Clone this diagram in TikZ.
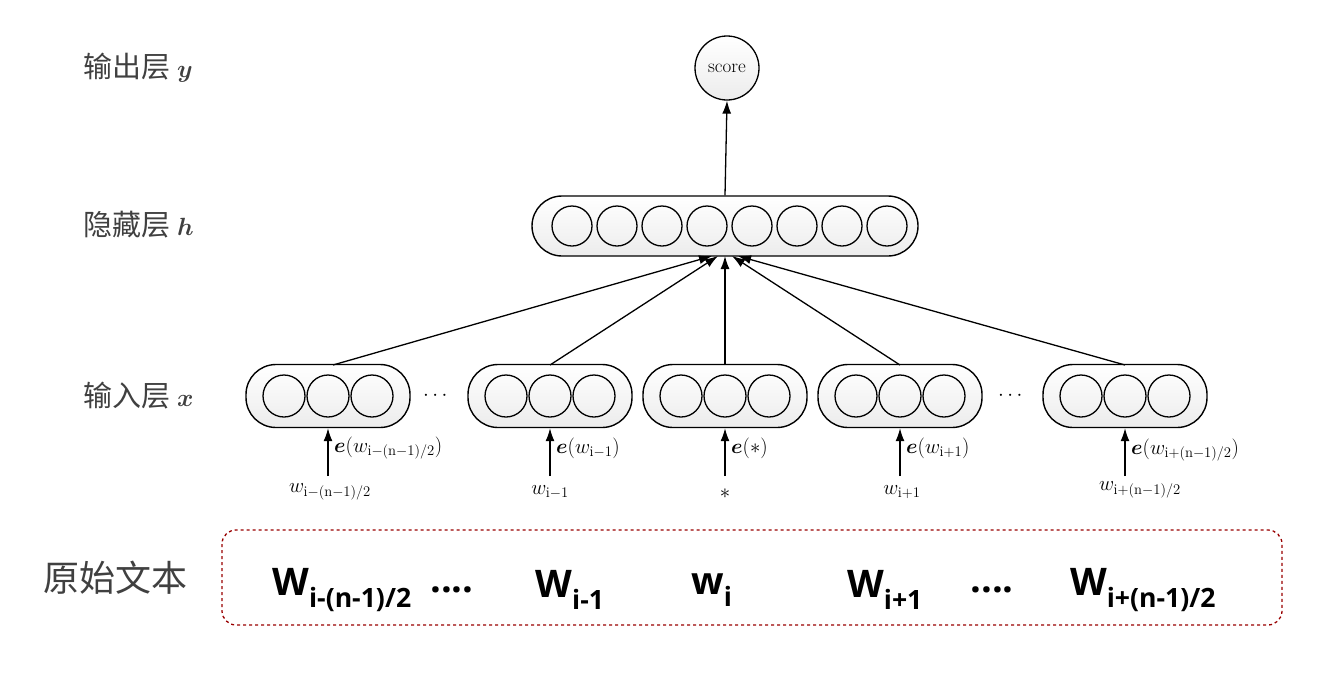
\documentclass[tikz,border=0pt]{standalone}
\usepackage{fontspec}
\usepackage{amsmath,bm}
\newfontfamily\cjk{Noto Sans CJK SC}
\newfontfamily\osans{Open Sans}
\usetikzlibrary{arrows.meta}
\begin{document}
\begin{tikzpicture}[x=1pt,y=-1pt,
  unit/.style={circle,draw,line width=1.3pt,minimum size=40pt,inner sep=0pt},
  layer/.style={draw,line width=1.4pt,rounded corners=30pt,top color=white,bottom color=gray!15},
  arr/.style={-{Latex[length=13pt,width=9pt]},line width=1.3pt},
  lab/.style={font=\cjk\fontsize{29}{29}\selectfont,text=black!75,anchor=west},
  big/.style={font=\osans\bfseries\fontsize{38}{38}\selectfont}]
\useasboundingbox (0,0) rectangle (1329,694);
% score
\node[circle,draw,line width=1.3pt,minimum size=64pt,inner sep=0pt,top color=white,bottom color=gray!15,font=\fontsize{19}{19}\selectfont] (s) at (727,68) {score};
% hidden
\node[layer,minimum width=386pt,minimum height=60pt] (h) at (725,226) {};
\foreach \i in {0,...,7}{\node[unit] (h\i) at (572+45*\i,226) {};}
\draw[arr] (h.north) -- (s.south);
% inputs
\foreach \n/\c in {1/328,2/550,3/725,4/900,5/1125}{
  \node[layer,minimum width=164pt,minimum height=63pt] (x\n) at (\c,396) {};
  \foreach \k in {-1,0,1}{\node[unit,minimum size=42pt] at (\c+44*\k,396) {};}
  \coordinate (w\n) at (\c,476);
  \draw[arr] (w\n) -- (x\n.south);
}
\coordinate (t1) at (333,365);
\coordinate (t2) at (550,365);
\coordinate (t3) at (725,365);
\coordinate (t4) at (900,365);
\coordinate (t5) at (1125,365);
\coordinate (e1) at (712,256);
\coordinate (e2) at (718,256);
\coordinate (e3) at (725,256);
\coordinate (e4) at (732,256);
\coordinate (e5) at (738,256);
\foreach \n in {1,...,5}{\draw[arr] (t\n) -- (e\n);}
\node[font=\fontsize{22}{22}\selectfont] (d1) at (437,396) {$\cdots$};
\node[font=\fontsize{22}{22}\selectfont] (d2) at (1012,396) {$\cdots$};
% embedding labels
\tikzset{el/.style={anchor=west,font=\fontsize{21}{21}\selectfont,inner sep=1pt}}
\node[el] at (333,448) {$\bm{e}(w_{\mathrm{i-(n-1)/2}})$};
\node[el] at (555,448) {$\bm{e}(w_{\mathrm{i-1}})$};
\node[el] at (730,448) {$\bm{e}(*)$};
\node[el] at (905,448) {$\bm{e}(w_{\mathrm{i+1}})$};
\node[el] at (1130,450) {$\bm{e}(w_{\mathrm{i+(n-1)/2}})$};
\tikzset{wl/.style={font=\fontsize{21}{21}\selectfont}}
\node[wl] at (330,492) {$w_{\mathrm{i-(n-1)/2}}$};
\node[wl] at (550,492) {$w_{\mathrm{i-1}}$};
\node[wl] at (725,494) {$*$};
\node[wl] at (902,492) {$w_{\mathrm{i+1}}$};
\node[wl] at (1140,490) {$w_{\mathrm{i+(n-1)/2}}$};
% left labels
\node[lab] at (80,68) {输出层 \fontsize{26}{26}\selectfont$\bm{y}$};
\node[lab] at (80,225) {隐藏层 \fontsize{26}{26}\selectfont$\bm{h}$};
\node[lab] at (80,396) {输入层 \fontsize{26}{26}\selectfont$\bm{x}$};
\node[lab,font=\cjk\fontsize{36}{36}\selectfont] at (40,578) {原始文本};
% raw text box
\draw[red!60!black,dashed,line width=1.3pt,rounded corners=14pt] (222,530) rectangle (1282,625);
\node[big] at (342,590) {W\textsubscript{i-(n-1)/2}};
\node[big] at (452,590) {....};
\node[big] at (570,590) {W\textsubscript{i-1}};
\node[big] at (712,590) {w\textsubscript{i}};
\node[big] at (885,590) {W\textsubscript{i+1}};
\node[big] at (992,590) {....};
\node[big] at (1143,590) {W\textsubscript{i+(n-1)/2}};
\end{tikzpicture}
\end{document}
